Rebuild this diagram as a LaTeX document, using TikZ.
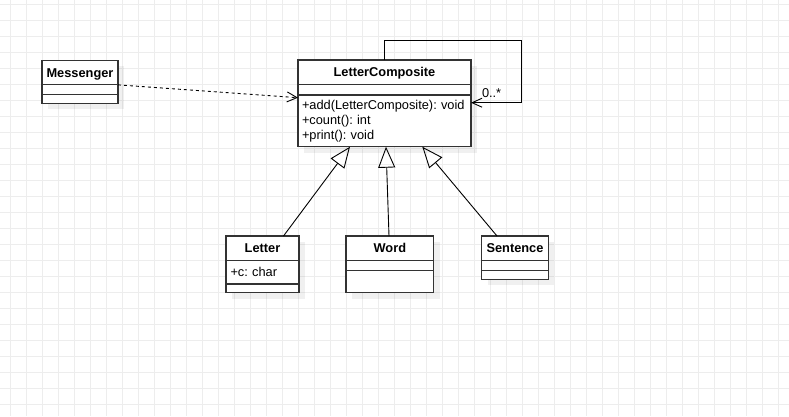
\documentclass[tikz,border=0pt]{standalone}
\usepackage{fontspec}
\setmainfont{Liberation Sans}
\usetikzlibrary{positioning,arrows.meta,calc,backgrounds}

\begin{document}
\frenchspacing
\begin{tikzpicture}[x=1pt, y=-1pt,
  every node/.style={font=\fontsize{12.8}{15}\selectfont, outer sep=0pt},
  umlhead/.style={draw=black!80, line width=1.2pt, fill=white, minimum width=#1,
    minimum height=24.7pt, text height=9.2pt, text depth=0pt,
    font=\fontsize{12.8}{15}\selectfont\bfseries},
  umlpart/.style 2 args={draw=black!80, line width=1.2pt, fill=white,
    minimum width=#1, minimum height=#2, inner sep=0pt},
  umltext/.style={inner xsep=4pt, text width=#1, align=left},
  umlshadow/.style={fill=black, fill opacity=0.06},
  gridline/.style={draw=black!7, line width=0.8pt},
  depend/.style={draw, line width=0.9pt, dash pattern=on 3pt off 3pt,
    -{Straight Barb[length=10pt, width=10pt]}},
  assoc/.style={draw, line width=0.9pt, -{Straight Barb[length=10pt, width=9pt]}},
  inherit/.style={draw, line width=0.9pt, -{Triangle[open, length=21pt, width=17pt]}}]
  \useasboundingbox (0,0) rectangle (789,416);

  \node[umlhead=76pt] (msghead) at (80,72.5) {Messenger};
  \node[umlpart={76pt}{10pt}, below=0pt of msghead] (msgattr) {};
  \node[umlpart={76pt}{8.3pt}, below=0pt of msgattr] (msgops) {};

  \node[umlhead=173pt, minimum height=24.5pt] (lchead) at (384.5,72.25) {LetterComposite};
  \node[umlpart={173pt}{10.5pt}, below=0pt of lchead] (lcattr) {};
  \node[umlpart={173pt}{51.7pt}, umltext=165pt, below=0pt of lcattr] (lcops)
    {+add(LetterComposite): void\\+count(): int\\+print(): void};

  \node[umlhead=73pt] (lthead) at (262.5,248.35) {Letter};
  \node[umlpart={73pt}{23.3pt}, umltext=64pt, inner xsep=4.5pt, text height=9.2pt,
    text depth=0pt, below=0pt of lthead] (ltattr) {+c: char};
  \node[umlpart={73pt}{8.7pt}, below=0pt of ltattr] (ltops) {};

  \node[umlhead=87.7pt] (wdhead) at (389.85,248.35) {Word};
  \node[umlpart={87.7pt}{10pt}, below=0pt of wdhead] (wdattr) {};
  \node[umlpart={87.7pt}{22pt}, below=0pt of wdattr] (wdops) {};

  \node[umlhead=66.6pt] (sthead) at (515,248.35) {Sentence};
  \node[umlpart={66.6pt}{10pt}, below=0pt of sthead] (stattr) {};
  \node[umlpart={66.6pt}{8.6pt}, below=0pt of stattr] (stops) {};

  \coordinate (lcloop) at (521.7,40);

  \draw[depend] (msghead.south east) -- ($(lcops.north west)+(0,2.7)$);
  \draw[assoc] (lchead.north) |- (lcloop) |- ($(lcops.north east)+(0,7.7)$)
    node[anchor=base west, inner sep=0pt, xshift=11pt, yshift=5.7pt] {0..*};
  \draw[inherit] ($(lthead.north)+(21,0)$) -- ($(lcops.south)+(-34.5,0)$);
  \draw[inherit] ($(wdhead.north)+(-0.85,0)$) -- ($(lcops.south)+(1.5,0)$);
  \draw[inherit] ($(sthead.north)+(-18,0)$) -- ($(lcops.south)+(37.8,0)$);

  \begin{scope}[on background layer]
    \fill[white] (0,0) rectangle (789,416);
    \foreach \gx in {10,26,...,789} \draw[gridline] (\gx,0) -- (\gx,416);
    \foreach \gy in {4,20,...,416} \draw[gridline] (0,\gy) -- (789,\gy);
    \foreach \clstop/\clsend in {msghead/msgops, lchead/lcops, lthead/ltops,
        wdhead/wdops, sthead/stops}
      \fill[umlshadow] ($(\clstop.north west)+(6,6)$) rectangle ($(\clsend.south east)+(6,6)$);
  \end{scope}
\end{tikzpicture}
\end{document}
